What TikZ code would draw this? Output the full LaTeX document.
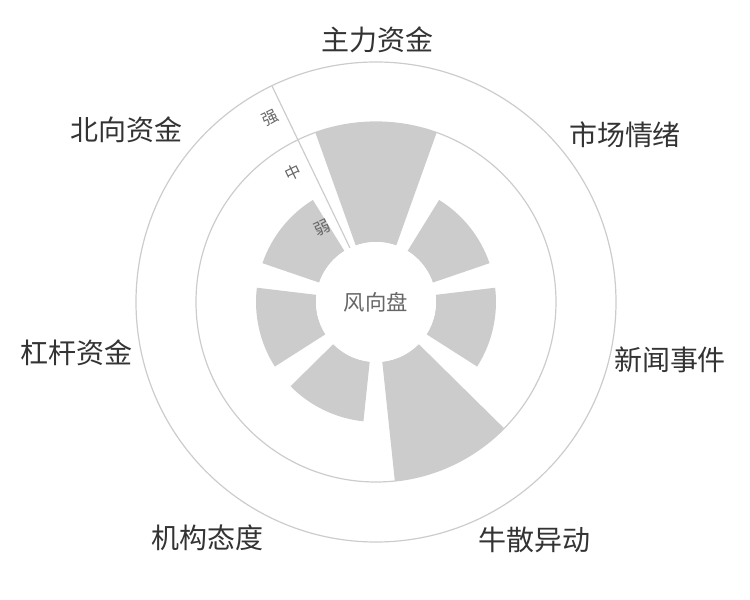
\documentclass[tikz,border=0pt]{standalone}
\usepackage{fontspec}
\setmainfont{Noto Sans CJK SC}
\definecolor{ringgray}{RGB}{204,204,204}
\definecolor{bargray}{RGB}{204,204,204}
\definecolor{labeltext}{RGB}{51,51,51}
\definecolor{hubtext}{RGB}{102,102,102}
\tikzset{every picture/.style={line width=0.75pt}}
\tikzset{
	ring/.style={draw=ringgray, line width=0.9pt},
	catlabel/.style={text=labeltext, inner sep=0.75pt, font=\fontsize{21}{24}\selectfont},
	levellabel/.style={text=hubtext, inner sep=0.75pt, font=\fontsize{12}{14}\selectfont, rotate=25.7},
}

\begin{document}
\begin{tikzpicture}[x=0.75pt,y=0.75pt]
	\useasboundingbox (-376,-298) rectangle (374,302);

	% rings
	\draw [ring] (0,0) circle (240);
	\draw [ring] (0,0) circle (180);

	% bars (angle of centre / radius)
	\foreach \ang/\rad in {90/180, 38.57/120, -12.86/120, -64.29/180, -115.71/120, -167.14/120, -218.57/120}{
		\fill [bargray] (\ang+19.7:60) arc [start angle=\ang+19.7, end angle=\ang-19.7, radius=60]
			-- (\ang-19.7:\rad) arc [start angle=\ang-19.7, end angle=\ang+19.7, radius=\rad] -- cycle;
	}

	% axis
	\coordinate (axisin) at (115.71:60);
	\coordinate (axisout) at (115.71:240);
	\draw [ring] (axisin) -- (axisout);
	\fill [white] (0,0) circle (60);

	% hub
	\node (hub) [text=hubtext, font=\fontsize{16}{18}\selectfont] at (0,0) {风向盘};

	% level labels
	\node (weak) [levellabel] at (-54,74) {弱};
	\node (mid) [levellabel] at (-83,129) {中};
	\node (strong) [levellabel] at (-106,184) {强};

	% category labels
	\node (zhuli) [catlabel] at (2,262) {主力资金};
	\node (qingxu) [catlabel] at (249,167) {市场情绪};
	\node (xinwen) [catlabel] at (294,-58) {新闻事件};
	\node (niusan) [catlabel] at (159,-238) {牛散异动};
	\node (jigou) [catlabel] at (-168,-236) {机构态度};
	\node (ganggan) [catlabel] at (-299,-51) {杠杆资金};
	\node (beixiang) [catlabel] at (-249,172) {北向资金};
\end{tikzpicture}
\end{document}
